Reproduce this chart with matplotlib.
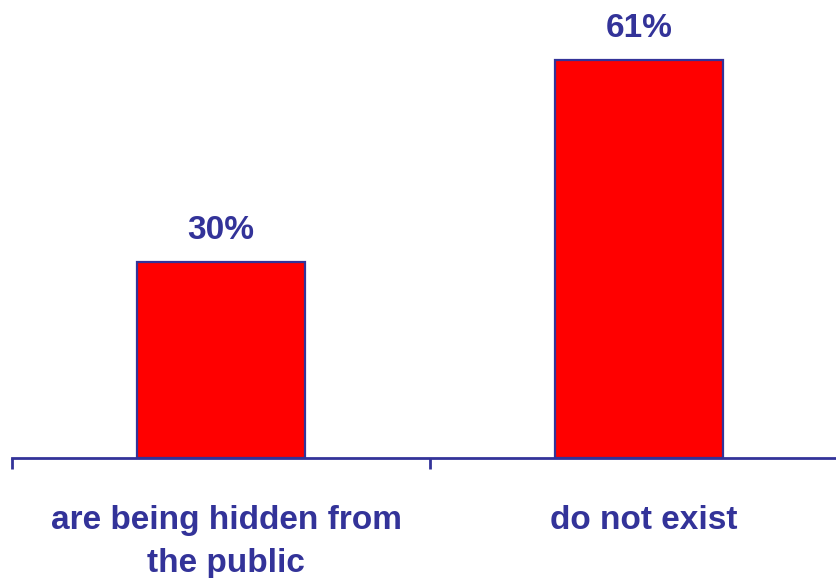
import matplotlib
matplotlib.use("Agg")
import matplotlib.pyplot as plt

categories = ["are being hidden from\nthe public", "do not exist"]
values = [30, 61]
value_labels = ["30%", "61%"]

navy = "#333399"
plt.rcParams['font.family'] = ['Liberation Sans', 'DejaVu Sans']

fig = plt.figure(figsize=(8.37, 5.78), dpi=100)
ax = fig.add_axes([12/837, 120/578, 836/837, 457/578])
x = [0, 1]
ax.bar(x, values, width=0.4, color="#FF0000", edgecolor=navy, linewidth=1.6)
ax.set_xlim(-0.5, 1.5)
ax.set_ylim(0, 70)
for xi, v, lab in zip(x, values, value_labels):
    ax.annotate(lab, (xi, v), xytext=(0, 11.5), textcoords="offset points",
                ha="center", va="bottom", fontsize=24, fontweight="bold", color=navy)

for s in ["top", "right", "left"]:
    ax.spines[s].set_visible(False)
ax.spines["bottom"].set_color(navy)
ax.spines["bottom"].set_linewidth(2)
ax.set_yticks([])
ax.set_xticks([-0.5, 0.5, 1.5])
ax.set_xticklabels([])
ax.tick_params(axis="x", length=8, width=2, color=navy, direction="out")
for xi, c in zip(x, categories):
    ax.text(xi + 0.012, -0.1035, c, transform=ax.get_xaxis_transform(), ha="center", va="top",
            fontsize=24, fontweight="bold", color=navy, linespacing=1.5)

fig.savefig("out.png", dpi=100)
